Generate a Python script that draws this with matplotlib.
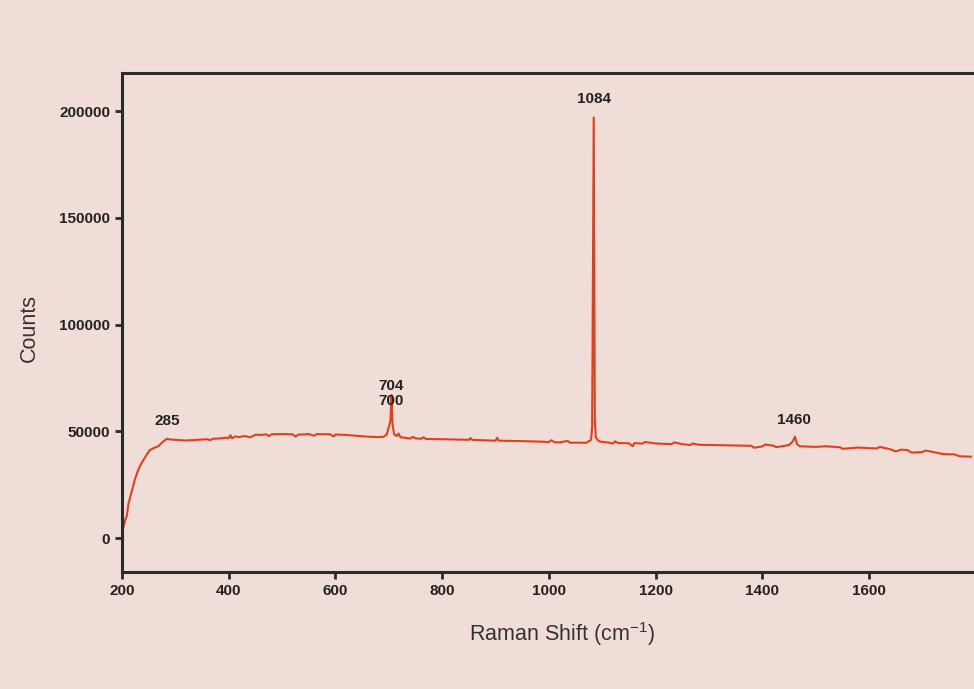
import matplotlib
matplotlib.use("Agg")
import matplotlib.pyplot as plt

# spectre Raman
shift = [200, 203, 206, 209, 212, 215, 219, 224, 229, 234, 240, 246, 252, 260,
         268, 276, 284, 290, 300, 320, 340, 360, 365, 370, 380, 395, 400, 403,
         406, 412, 420, 430, 440, 450, 460, 470, 475, 480, 500, 520, 525, 530,
         550, 560, 565, 590, 597, 600, 620, 640, 660, 680, 690, 696, 700, 703,
         705, 707, 710, 715, 718, 722, 730, 740, 745, 750, 760, 765, 770, 800,
         850, 853, 856, 900, 903, 906, 950, 980, 1000, 1005, 1010, 1020, 1035,
         1040, 1050, 1070, 1076, 1079, 1081, 1083, 1084, 1085, 1086, 1088,
         1091, 1095, 1110, 1120, 1124, 1130, 1150, 1157, 1160, 1175, 1180,
         1200, 1230, 1235, 1250, 1265, 1270, 1280, 1300, 1350, 1380, 1384,
         1400, 1405, 1420, 1426, 1440, 1450, 1457, 1461, 1465, 1470, 1500,
         1520, 1546, 1550, 1580, 1600, 1615, 1620, 1640, 1650, 1660, 1672,
         1680, 1700, 1706, 1730, 1740, 1760, 1770, 1780, 1793]
counts = [3000, 5500, 8500, 10500, 16000, 19000, 22500, 27500, 31000, 34000,
          36500, 39000, 41200, 42200, 43000, 45000, 46500, 46200, 46000, 45700,
          46000, 46300, 45800, 46500, 46600, 47000, 46800, 48200, 46700, 47600,
          47300, 47800, 47200, 48400, 48300, 48600, 47700, 48600, 48700, 48600,
          47500, 48400, 48700, 47900, 48700, 48600, 47600, 48500, 48300, 47900,
          47500, 47300, 47400, 48500, 52000, 55000, 67000, 53000, 48500, 47800,
          49000, 47200, 47000, 46600, 47400, 46700, 46500, 47200, 46400, 46300,
          46000, 46800, 46000, 45600, 47000, 45600, 45400, 45200, 45000, 45800,
          44900, 44800, 45500, 44600, 44700, 44600, 45500, 46000, 52000, 150000,
          197000, 120000, 55000, 47000, 46000, 45200, 44800, 44300, 45300,
          44500, 44400, 43000, 44500, 44200, 45000, 44300, 44000, 44800, 44000,
          43600, 44300, 43700, 43600, 43400, 43200, 42300, 42900, 43800, 43300,
          42600, 43100, 43600, 45200, 47500, 44000, 43000, 42700, 43000, 42500,
          41800, 42400, 42100, 42000, 42700, 41600, 40600, 41400, 41200, 40000,
          40300, 41000, 39800, 39300, 39200, 38300, 38200, 38100]

# pics annotés
pics = [(285, 46500, "285", 8), (705, 67000, "704\n700", -9),
        (1084, 197000, "1084", 8), (1460, 47500, "1460", 7)]

xticks = [200, 400, 600, 800, 1000, 1200, 1400, 1600]
yticks = [0, 50000, 100000, 150000, 200000]

fond = "#f1ddd7"
plt.rcParams["font.family"] = ["Liberation Sans", "DejaVu Sans"]
plt.rcParams["mathtext.default"] = "regular"

fig = plt.figure(figsize=(9.74, 6.89), dpi=100, facecolor=fond)
ax = fig.add_axes([0.1253, 0.1698, 0.8727, 0.7242])
ax.set_facecolor(fond)

ax.plot(shift, counts, color="#e2401c", lw=1.5)

for x, y, t, dy in pics:
    ax.annotate(t, (x, y), xytext=(0, dy), textcoords="offset points",
                ha="center", va="bottom", fontsize=11, fontweight="bold",
                color="#222222", linespacing=1.05)

ax.set_xlim(200, 1793)
ax.set_ylim(-15900, 217800)
ax.set_xticks(xticks)
ax.set_yticks(yticks)

for s in ["left", "bottom", "top"]:
    ax.spines[s].set_linewidth(2.2)
    ax.spines[s].set_color("#2b2b2b")
ax.spines["right"].set_visible(False)

ax.tick_params(direction="out", length=5, width=2, color="#2b2b2b",
               labelsize=11, labelcolor="#222222")
for lab in ax.get_xticklabels() + ax.get_yticklabels():
    lab.set_fontweight("bold")

ax.set_xlabel("Raman Shift (cm$^{-1}$)", fontsize=15.5, color="#333333")
ax.set_ylabel("Counts", fontsize=15.5, color="#333333")
ax.xaxis.set_label_coords(0.518, -0.097)
ax.yaxis.set_label_coords(-0.097, 0.49)

fig.savefig("out.png", dpi=100, facecolor=fond)
